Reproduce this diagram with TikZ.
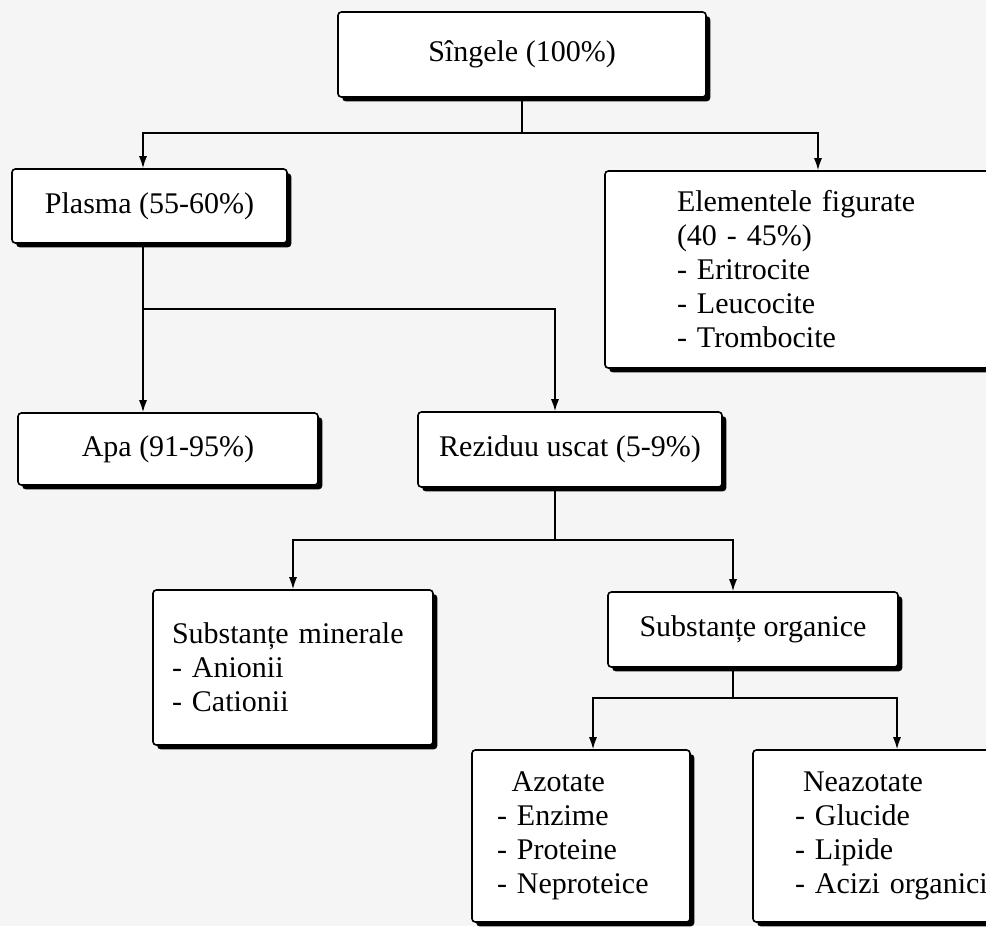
\documentclass[tikz,border=0pt]{standalone}
\usepackage{fontspec}
\setmainfont{Liberation Serif}
\usetikzlibrary{arrows.meta,shadows}

\begin{document}
\begin{tikzpicture}[x=0.75pt,y=-0.75pt]

\tikzset{box/.style = {shape=rectangle,draw,line width=1.2pt,rounded corners=2.5pt,fill=white,
  drop shadow={shadow xshift=3.2pt,shadow yshift=-3.2pt,fill=black,opacity=1},
  font=\fontsize{22.5}{25.5}\selectfont,inner sep=0pt}}
\tikzset{listbox/.style = {box,align=left}}
\tikzset{edge/.style = {-{Latex[length=9pt,width=6pt]},line width=1.1pt}}

\clip (0,0) rectangle (986,926);
\fill[black!4] (0,0) rectangle (986,926);

% vertices
\node[box,minimum width=276pt,minimum height=63.75pt] (sange) at (522,54.5) {Sîngele (100\%)};
\node[box,minimum width=206.25pt,minimum height=55.5pt] (plasma) at (149.5,206) {Plasma (55-60\%)};
\node[listbox,inner xsep=54pt,text width=211.5pt,minimum height=147.75pt] (elem) at (818,269.5)
  {Elementele figurate\\(40 - 45\%)\\- Eritrocite\\- Leucocite\\- Trombocite};
\node[box,minimum width=225pt,minimum height=54pt] (apa) at (168,449) {Apa (91-95\%)};
\node[box,minimum width=228pt,minimum height=56.25pt] (rezid) at (570,449.5) {Reziduu uscat (5-9\%)};
\node[listbox,inner xsep=14.25pt,text width=181.5pt,minimum height=116.25pt] (miner) at (293,667.5)
  {Substanțe minerale\\- Anionii\\- Cationii};
\node[box,minimum width=217.5pt,minimum height=56.25pt] (organ) at (753,629.5) {Substanțe organice};
\node[listbox,inner xsep=18.75pt,text width=126pt,minimum height=129pt] (azot) at (581,836)
  {\hspace*{11pt}Azotate\\- Enzime\\- Proteine\\- Neproteice};
\node[listbox,inner xsep=31.5pt,text width=153pt,minimum height=129pt] (neazot) at (897,836)
  {\hspace*{6pt}Neazotate\\- Glucide\\- Lipide\\- Acizi organici};

% branch points
\coordinate (s1) at (522,133);
\coordinate (p1) at (143,133);
\coordinate (p2) at (143,309);
\coordinate (r1) at (555,309);
\coordinate (r2) at (555,540);
\coordinate (o1) at (733,540);
\coordinate (o2) at (733,698);
\coordinate (a1) at (593,698);

%edges
\draw[line width=1.1pt] (sange.south) -- (s1);
\draw[edge] (s1) -| (p1 |- plasma.north);
\draw[edge] (s1) -| (elem.north);
\draw[edge] (p1 |- plasma.south) -- (p1 |- apa.north);
\draw[edge] (p2) -- (r1) -- (r1 |- rezid.north);
\draw[line width=1.1pt] (r1 |- rezid.south) -- (r2);
\draw[edge] (r2) -| (miner.north);
\draw[edge] (r2) -| (o1 |- organ.north);
\draw[line width=1.1pt] (o1 |- organ.south) -- (o2);
\draw[edge] (o2) -| (a1 |- azot.north);
\draw[edge] (o2) -| (neazot.north);
\end{tikzpicture}
\end{document}
